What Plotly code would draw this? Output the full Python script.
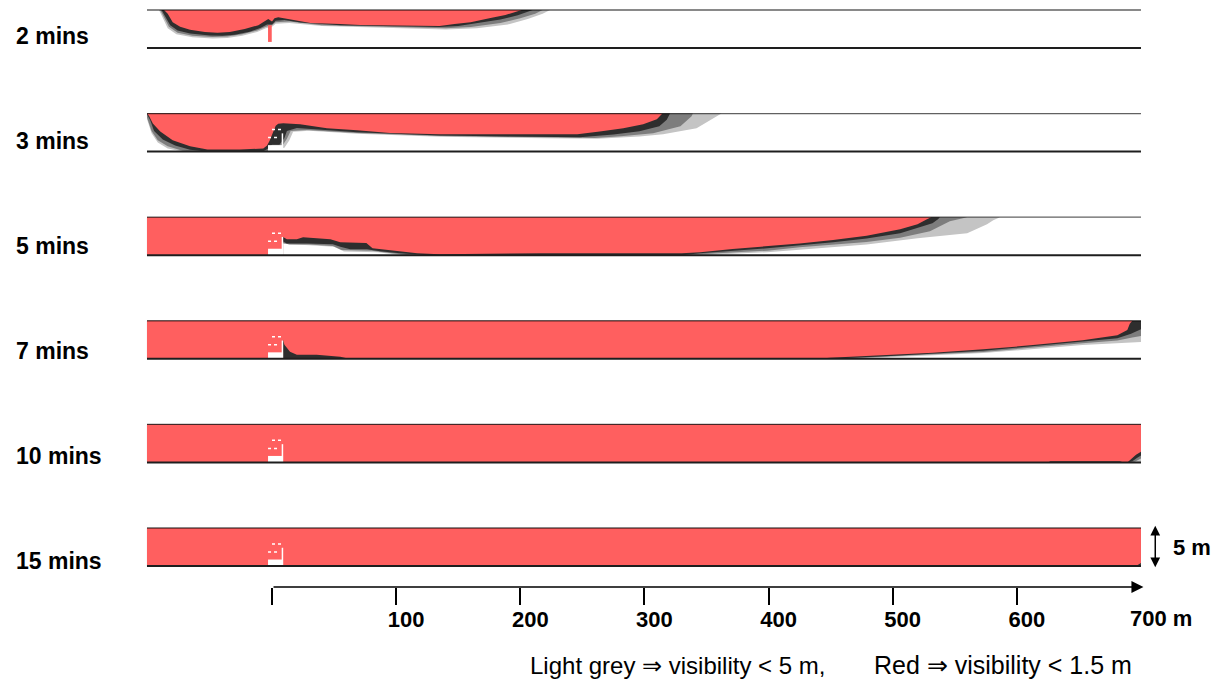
import plotly.graph_objects as go

# ---------------- data ----------------
TIMES = ["2 mins", "3 mins", "5 mins", "7 mins", "10 mins", "15 mins"]
X_TICKS = [0, 100, 200, 300, 400, 500, 600]
X_TICK_TEXT = ["", "100", "200", "300", "400", "500", "600"]
TUNNEL_START = -100.7
TUNNEL_END = 700.0
TUNNEL_H = 5.0  # m

# smoke-layer boundaries: (distance m, depth below ceiling m)
RED_2 = [(-87, 0), (-84, 0.5), (-80, 1.6), (-74, 2.2), (-66, 2.6), (-54, 2.9), (-44, 3.0), (-34, 2.9),
         (-22, 2.5), (-11, 2.0), (-5.6, 1.45), (-3, 1.2), (0, 1.5), (2, 1.1), (5, 0.95), (14.5, 1.2),
         (23, 1.45), (31, 1.7), (55, 1.85), (71, 1.97), (103, 2.04), (135, 2.1), (147, 1.85), (160, 1.6),
         (176, 1.05), (188, 0.66), (196, 0.26), (201, 0)]
DARK_2 = [(-89, 0), (-86, 0.8), (-82, 2.0), (-76, 2.7), (-66, 3.1), (-50, 3.35), (-40, 3.4), (-30, 3.25),
          (-18, 2.85), (-9, 2.35), (-4, 1.9), (0, 1.9), (3, 1.4), (10, 1.3), (23, 1.65), (55, 2.0),
          (103, 2.15), (135, 2.25), (150, 2.1), (165, 1.75), (184, 1.25), (198, 0.7), (206, 0.25), (210, 0)]
MID_2 = [(-90, 0), (-87, 1.0), (-83, 2.2), (-76, 3.0), (-64, 3.4), (-48, 3.55), (-36, 3.5), (-24, 3.2),
         (-12, 2.7), (-5, 2.2), (0, 2.0), (3, 1.6), (14, 1.5), (40, 2.0), (103, 2.25), (140, 2.4),
         (160, 2.25), (184, 1.7), (200, 1.1), (212, 0.5), (218, 0)]
LIGHT_2 = [(-91, 0), (-88, 1.1), (-84, 2.4), (-77, 3.2), (-64, 3.6), (-48, 3.75), (-36, 3.7), (-24, 3.4),
           (-12, 2.9), (-5, 2.4), (0, 2.2), (3, 1.8), (14, 1.7), (40, 2.1), (103, 2.35), (140, 2.55),
           (165, 2.4), (190, 1.9), (206, 1.2), (218, 0.5), (224, 0)]

RED_3 = [(-100.7, 0), (-99, 0.3), (-96, 1.3), (-90, 2.35), (-80, 3.5), (-66, 4.3), (-52, 4.72), (-26, 4.72),
         (-7, 4.6), (-4, 4.2), (-2, 3.6), (0, 2.72), (3, 1.6), (5, 1.35), (9, 1.28), (22.6, 1.41),
         (44.3, 1.93), (68.5, 2.2), (95, 2.55), (135, 2.72), (246, 2.72), (264, 2.35), (283, 1.93),
         (299, 1.41), (310, 0.75), (314.5, 0)]
DARK_3 = [(-100.7, 0), (-100.7, 0.1), (-98, 0.9), (-95, 2.3), (-88, 3.4), (-78, 4.2), (-66, 4.75), (-55, 4.95),
          (-7, 4.95), (-4, 4.7), (0, 4.1), (6, 4.1), (10, 3.2), (12, 2.3), (20, 1.9), (40, 2.15), (68.5, 2.45),
          (135, 2.88), (221, 3.0), (248, 3.12), (275, 2.75), (296, 2.33), (312, 1.67), (318, 0.8), (320.6, 0)]
MID_3 = [(-100.7, 0), (-100.7, 0.5), (-97, 2.3), (-92, 3.5), (-84, 4.3), (-72, 4.9), (-62, 5), (-4, 5),
         (0, 4.5), (8, 4.3), (12, 3.3), (15, 2.3), (28, 2.15), (68.5, 2.55), (135, 2.95), (221, 3.15),
         (260, 3.2), (281, 2.99), (307, 2.59), (329, 1.67), (338, 0.35), (339, 0)]
LIGHT_3 = [(-100.7, 0), (-100.7, 0.7), (-97, 2.6), (-92, 3.8), (-84, 4.6), (-72, 5), (-4, 5), (0, 4.7),
           (10, 4.5), (14, 3.5), (17, 2.4), (30, 2.25), (68.5, 2.65), (135, 3.05), (221, 3.25), (262, 3.3),
           (296, 3.0), (315, 2.72), (342, 1.93), (355, 0.75), (361, 0.1), (362, 0)]

RED_5 = [(-100.7, 0), (-100.7, 5), (8.9, 5), (8.9, 2.6), (12, 2.9), (20, 2.9), (25, 2.63), (33, 2.76),
         (47, 2.9), (55, 3.3), (76, 3.4), (81, 4.08), (100.7, 4.47), (117, 4.74), (135, 4.87), (216, 4.74),
         (330, 4.74), (345, 4.6), (371, 4.2), (399, 3.85), (425, 3.45), (452, 3.0), (479, 2.45),
         (506, 1.6), (520, 0.92), (527.6, 0.26), (531, 0)]
DARK_5 = [(-100.7, 0), (-100.7, 5), (8.9, 5), (8.9, 3.2), (12, 3.45), (28, 3.45), (49, 3.55), (55, 3.9),
          (63, 4.21), (76.5, 4.21), (87, 4.47), (103, 4.74), (125, 5), (330, 5), (345, 4.74), (399, 4.1),
          (452, 3.3), (479, 2.8), (506, 2.1), (523, 1.3), (532, 0.8), (536.5, 0.26), (538, 0)]
MID_5 = [(-100.7, 0), (-100.7, 5), (8.9, 5), (8.9, 3.4), (14, 3.6), (30, 3.6), (49, 3.8), (56, 4.3),
         (80, 4.4), (95, 4.7), (110, 5), (330, 5), (350, 4.85), (399, 4.4), (425, 3.95), (479, 3.25),
         (506, 2.7), (530, 1.84), (546, 0.53), (554, 0.26), (560, 0)]
LIGHT_5 = [(-100.7, 0), (-100.7, 5), (8.9, 5), (8.9, 3.5), (30, 3.7), (50, 3.9), (58, 4.5), (85, 4.6),
           (100, 4.9), (110, 5), (345, 5), (399, 4.6), (479, 3.6), (520, 2.76), (560, 2.11), (576, 0.92),
           (581, 0.39), (586.4, 0)]

RED_7 = [(-100.7, 0), (-100.7, 5), (8.9, 5), (8.9, 2.5), (10, 3.16), (14.5, 4.08), (20, 4.47), (36, 4.47),
         (55, 4.74), (62, 5), (440, 5), (449.5, 4.87), (495, 4.5), (532.5, 4.21), (573, 3.75), (613, 3.2),
         (653, 2.55), (681, 1.9), (689, 1.2), (691, 0.4), (693, 0)]
DARK_7 = [(-100.7, 0), (-100.7, 5), (449.5, 5), (495, 4.68), (573, 3.95), (653, 2.75), (681, 2.3),
          (692, 1.7), (697, 1.3), (700, 1.1), (700, 0)]
MID_7 = [(-100.7, 0), (-100.7, 5), (455, 5), (520, 4.55), (573, 4.1), (653, 2.95), (681, 2.6), (693, 2.2),
         (700, 2.0), (700, 0)]
LIGHT_7 = [(-100.7, 0), (-100.7, 5), (470, 5), (573, 4.25), (653, 3.2), (683, 3.0), (693, 2.85),
           (700, 2.8), (700, 0)]

RED_10 = [(-100.7, 0), (-100.7, 5), (625, 5), (627, 4.85), (683, 4.85), (686, 5), (689, 5), (692, 4.6),
          (696, 4.0), (700, 3.6), (700, 0)]
DARK_10 = [(-100.7, 0), (-100.7, 5), (689, 5), (693, 4.85), (697, 4.4), (700, 4.1), (700, 0)]
MID_10 = [(-100.7, 0), (-100.7, 5), (690, 5), (695, 4.9), (700, 4.5), (700, 0)]
LIGHT_10 = [(-100.7, 0), (-100.7, 5), (700, 5), (700, 0)]

RED_15 = [(-100.7, 0), (-100.7, 5), (696, 5), (700, 4.6), (700, 0)]
DARK_15 = [(-100.7, 0), (-100.7, 5), (698, 5), (700, 4.8), (700, 0)]
MID_15 = [(-100.7, 0), (-100.7, 5), (699, 5), (700, 4.9), (700, 0)]
LIGHT_15 = [(-100.7, 0), (-100.7, 5), (700, 5), (700, 0)]

RED_LAYERS = [RED_2, RED_3, RED_5, RED_7, RED_10, RED_15]
DARK_LAYERS = [DARK_2, DARK_3, DARK_5, DARK_7, DARK_10, DARK_15]
MID_LAYERS = [MID_2, MID_3, MID_5, MID_7, MID_10, MID_15]
LIGHT_LAYERS = [LIGHT_2, LIGHT_3, LIGHT_5, LIGHT_7, LIGHT_10, LIGHT_15]

# fire-source vehicle (m)
VEH_BOX_X = [-3.2, 8.9]
VEH_BOX_H = 0.85
VEH_POST_X = 8.4
VEH_POST_H = 2.4
VEH_DASH_LINES = [(-3.2, 5.0, 1.84), (0.0, 8.0, 2.9)]
VEH_PANELS = [1, 2, 3, 4, 5]
# red plume spike at fire in 2-min panel: x range, depth range
SPIKE_X = [-3.2, -0.2]
SPIKE_D = [2.0, 4.2]

# ---------------- layout constants ----------------
W, H = 1213, 682
PX_PER_M_X = 1.2414
PX_PER_M_Y = 7.6
ORIGIN_PX = 272
FIRST_FLOOR_PX = 48
PANEL_GAP = 103.6 / PX_PER_M_Y
LABEL_GAP = 105 / PX_PER_M_Y
X_RANGE = [-ORIGIN_PX / PX_PER_M_X, (W - ORIGIN_PX) / PX_PER_M_X]
Y_RANGE = [-(H - FIRST_FLOOR_PX) / PX_PER_M_Y, FIRST_FLOOR_PX / PX_PER_M_Y]
AXIS_Y = -(587 - FIRST_FLOOR_PX) / PX_PER_M_Y
FONT = "Liberation Sans, Arial, sans-serif"

C_RED = "#ff5f5f"
C_DARK = "#2e2e2e"
C_MID = "#7d7d7d"
C_LIGHT = "#c4c4c4"

fig = go.Figure()


def floor_y(k):
    return -k * PANEL_GAP


def poly(points, k, color):
    ceil = floor_y(k) + TUNNEL_H
    xs = [p[0] for p in points]
    ys = [ceil - p[1] for p in points]
    fig.add_trace(go.Scatter(x=xs, y=ys, mode="lines", fill="toself", fillcolor=color,
                             line=dict(width=0, color=color), hoverinfo="skip", showlegend=False))


for k in range(len(TIMES)):
    poly(LIGHT_LAYERS[k], k, C_LIGHT)
    poly(MID_LAYERS[k], k, C_MID)
    poly(DARK_LAYERS[k], k, C_DARK)
    poly(RED_LAYERS[k], k, C_RED)

# spike in first panel
ceil0 = floor_y(0) + TUNNEL_H
fig.add_trace(go.Scatter(x=[SPIKE_X[0], SPIKE_X[1], SPIKE_X[1], SPIKE_X[0]],
                         y=[ceil0 - SPIKE_D[0], ceil0 - SPIKE_D[0], ceil0 - SPIKE_D[1], ceil0 - SPIKE_D[1]],
                         mode="lines", fill="toself", fillcolor=C_RED, line=dict(width=0),
                         hoverinfo="skip", showlegend=False))

# vehicles
for k in VEH_PANELS:
    fl = floor_y(k)
    fig.add_trace(go.Scatter(x=[VEH_BOX_X[0], VEH_BOX_X[1], VEH_BOX_X[1], VEH_BOX_X[0]],
                             y=[fl, fl, fl + VEH_BOX_H, fl + VEH_BOX_H], mode="lines", fill="toself",
                             fillcolor="white", line=dict(width=0), hoverinfo="skip", showlegend=False))
    fig.add_trace(go.Scatter(x=[VEH_POST_X, VEH_POST_X], y=[fl, fl + VEH_POST_H], mode="lines",
                             line=dict(width=1.5, color="white"), hoverinfo="skip", showlegend=False))
    for x0, x1, h in VEH_DASH_LINES:
        fig.add_trace(go.Scatter(x=[x0, x1], y=[fl + h, fl + h], mode="lines",
                                 line=dict(width=1.5, color="white", dash="dot"),
                                 hoverinfo="skip", showlegend=False))

shapes = []
annotations = []
for k, label in enumerate(TIMES):
    fl = floor_y(k)
    shapes.append(dict(type="line", xref="x", yref="y", x0=TUNNEL_START, x1=TUNNEL_END,
                       y0=fl + TUNNEL_H, y1=fl + TUNNEL_H, line=dict(color="rgba(0,0,0,0.62)", width=1.3)))
    shapes.append(dict(type="line", xref="x", yref="y", x0=TUNNEL_START, x1=TUNNEL_END,
                       y0=fl, y1=fl, line=dict(color="#1e1e1e", width=2)))
    annotations.append(dict(text=f"<b>{label}</b>", xref="paper", yref="y", x=14 / W,
                            y=1.58 - k * LABEL_GAP, xanchor="left", yanchor="middle", showarrow=False,
                            font=dict(size=23, color="black", family=FONT)))

# distance axis line with arrow
annotations.append(dict(text="", xref="x", yref="y", axref="x", ayref="y", x=TUNNEL_END + 2,
                        y=AXIS_Y, ax=0, ay=AXIS_Y, showarrow=True, arrowhead=2, arrowsize=1.6,
                        arrowwidth=1.5, arrowcolor="black", standoff=0, startstandoff=0))
annotations.append(dict(text="<b>700 m</b>", xref="x", yref="y", x=TUNNEL_END, y=AXIS_Y,
                        xanchor="left", yanchor="middle", xshift=-13, yshift=-31, showarrow=False,
                        font=dict(size=22, color="black", family=FONT)))

# 5 m height marker
fl5 = floor_y(5)
annotations.append(dict(text="", xref="x", yref="y", axref="x", ayref="y", x=711.5, y=fl5 + TUNNEL_H + 0.3,
                        ax=711.5, ay=fl5 - 0.35, showarrow=True, arrowhead=2, arrowside="end+start",
                        arrowsize=1.3, arrowwidth=1.5, arrowcolor="black", standoff=0, startstandoff=0))
annotations.append(dict(text="<b>5 m</b>", xref="paper", yref="y", x=1171 / W, y=fl5 + TUNNEL_H / 2,
                        xanchor="left", yanchor="middle", showarrow=False,
                        font=dict(size=22, color="black", family=FONT)))

# colour key
annotations.append(dict(text="Light grey \u21d2 visibility &lt; 5 m,", xref="paper", yref="paper",
                        x=528 / W, y=1 - 665 / H, xanchor="left", yanchor="middle", showarrow=False,
                        font=dict(size=24, color="black", family=FONT)))
annotations.append(dict(text="Red \u21d2 visibility &lt; 1.5 m", xref="paper", yref="paper",
                        x=872 / W, y=1 - 665 / H, xanchor="left", yanchor="middle", showarrow=False,
                        font=dict(size=25, color="black", family=FONT)))

axis_pos = (AXIS_Y - Y_RANGE[0]) / (Y_RANGE[1] - Y_RANGE[0])

fig.update_layout(
    width=W, height=H, margin=dict(l=0, r=0, t=0, b=0),
    paper_bgcolor="white", plot_bgcolor="white",
    shapes=shapes, annotations=annotations, showlegend=False,
    xaxis=dict(range=X_RANGE, showgrid=False, zeroline=False, showline=False,
               anchor="free", position=axis_pos, ticks="outside", ticklen=17, tickwidth=1.5,
               tickcolor="black", tickvals=X_TICKS,
               ticktext=[f"<b>{t}</b>" if t else "" for t in X_TICK_TEXT], ticklabelshift=10,
               ticklabelstandoff=-4,
               tickfont=dict(size=22, color="black", family=FONT),
               fixedrange=True),
    yaxis=dict(range=Y_RANGE, visible=False, fixedrange=True),
)

fig.write_html("out.html", include_plotlyjs=True, config={"displayModeBar": False},
               post_script="document.body.style.margin='0';document.body.style.overflow='hidden';")
